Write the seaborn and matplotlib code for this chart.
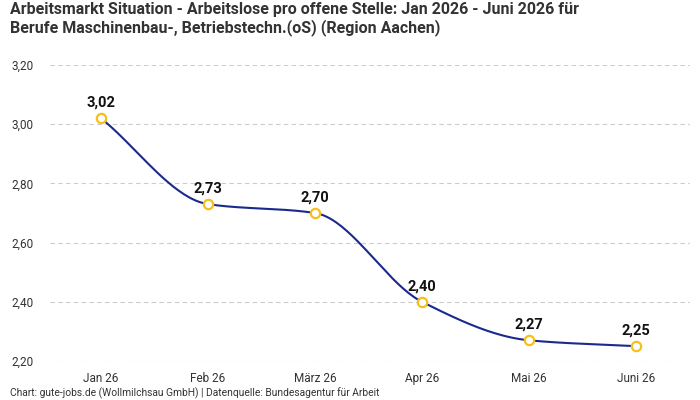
import numpy as np
import pandas as pd
import matplotlib
matplotlib.use("Agg")
import matplotlib.pyplot as plt
import seaborn as sns

months = ["Jan 26", "Feb 26", "März 26", "Apr 26", "Mai 26", "Juni 26"]
values = [3.02, 2.73, 2.70, 2.40, 2.27, 2.25]
yticks = [2.20, 2.40, 2.60, 2.80, 3.00, 3.20]

title = ("Arbeitsmarkt Situation - Arbeitslose pro offene Stelle: Jan 2026 - Juni 2026 für\n"
         "Berufe Maschinenbau-, Betriebstechn.(oS) (Region Aachen)")
footer = "Chart: gute-jobs.de (Wollmilchsau GmbH) | Datenquelle: Bundesagentur für Arbeit"

sns.set_theme(style="white")
plt.rcParams['font.family'] = ['Roboto', 'DejaVu Sans']

def monotone(x, y, n=40):
    x = np.asarray(x, float); y = np.asarray(y, float)
    h = np.diff(x); d = np.diff(y) / h
    m = np.zeros_like(y)
    m[0] = d[0]; m[-1] = d[-1]
    for i in range(1, len(y) - 1):
        if d[i-1] * d[i] <= 0:
            m[i] = 0
        else:
            w1 = 2*h[i] + h[i-1]; w2 = h[i] + 2*h[i-1]
            m[i] = (w1 + w2) / (w1/d[i-1] + w2/d[i])
    xs, ys = [], []
    for i in range(len(h)):
        t = np.linspace(0, 1, n, endpoint=False)
        h00 = 2*t**3 - 3*t**2 + 1; h10 = t**3 - 2*t**2 + t
        h01 = -2*t**3 + 3*t**2; h11 = t**3 - t**2
        xs.append(x[i] + t*h[i])
        ys.append(h00*y[i] + h10*h[i]*m[i] + h01*y[i+1] + h11*h[i]*m[i+1])
    xs.append([x[-1]]); ys.append([y[-1]])
    return np.concatenate(xs), np.concatenate(ys)

pos = np.arange(len(months))
sx, sy = monotone(pos, values)
curve = pd.DataFrame({"x": sx, "y": sy})
pts = pd.DataFrame({"x": pos, "y": values})

fig = plt.figure(figsize=(7, 4), dpi=100)
ax = fig.add_axes([50/700, 39/400, 640/700, 296/400])

ax.set_axisbelow(True)
for yt in yticks:
    ax.axhline(yt, color="#cccccc", lw=0.8, ls=(0, (4, 3)), zorder=0)

sns.lineplot(data=curve, x="x", y="y", ax=ax, color="#1a2a8c", lw=1.5, zorder=2)
sns.scatterplot(data=pts, x="x", y="y", ax=ax, s=45, facecolor="white",
                edgecolor="#f7bf1a", linewidth=1.6, zorder=3)

for xi, v in zip(pos, values):
    ax.annotate(f"{v:.2f}".replace(".", ","), (xi, v), xytext=(0, 6),
                textcoords="offset points", ha="center", va="bottom",
                fontsize=10.5, fontweight="bold", color="#111111")

ax.set_xlim(-0.477, 5.505)
ax.set_ylim(2.20, 3.20)
ax.set_xticks(pos)
ax.set_xticklabels(months)
ax.set_yticks(yticks)
ax.set_yticklabels([f"{t:.2f}".replace(".", ",") for t in yticks])
ax.tick_params(axis="both", length=0, labelsize=8.5, colors="#333333")
ax.tick_params(axis="y", pad=12)
ax.tick_params(axis="x", pad=8)
ax.set_xlabel(""); ax.set_ylabel("")
for s in ax.spines.values():
    s.set_visible(False)

fig.text(10/700, 1 - 2/400, title, ha="left", va="top", fontsize=11.5,
         fontweight="bold", color="#333333", linespacing=1.15)
fig.text(10/700, 1 - 393/400, footer, ha="left", va="center", fontsize=7.4, color="#333333")

fig.savefig("out.png", dpi=100)
